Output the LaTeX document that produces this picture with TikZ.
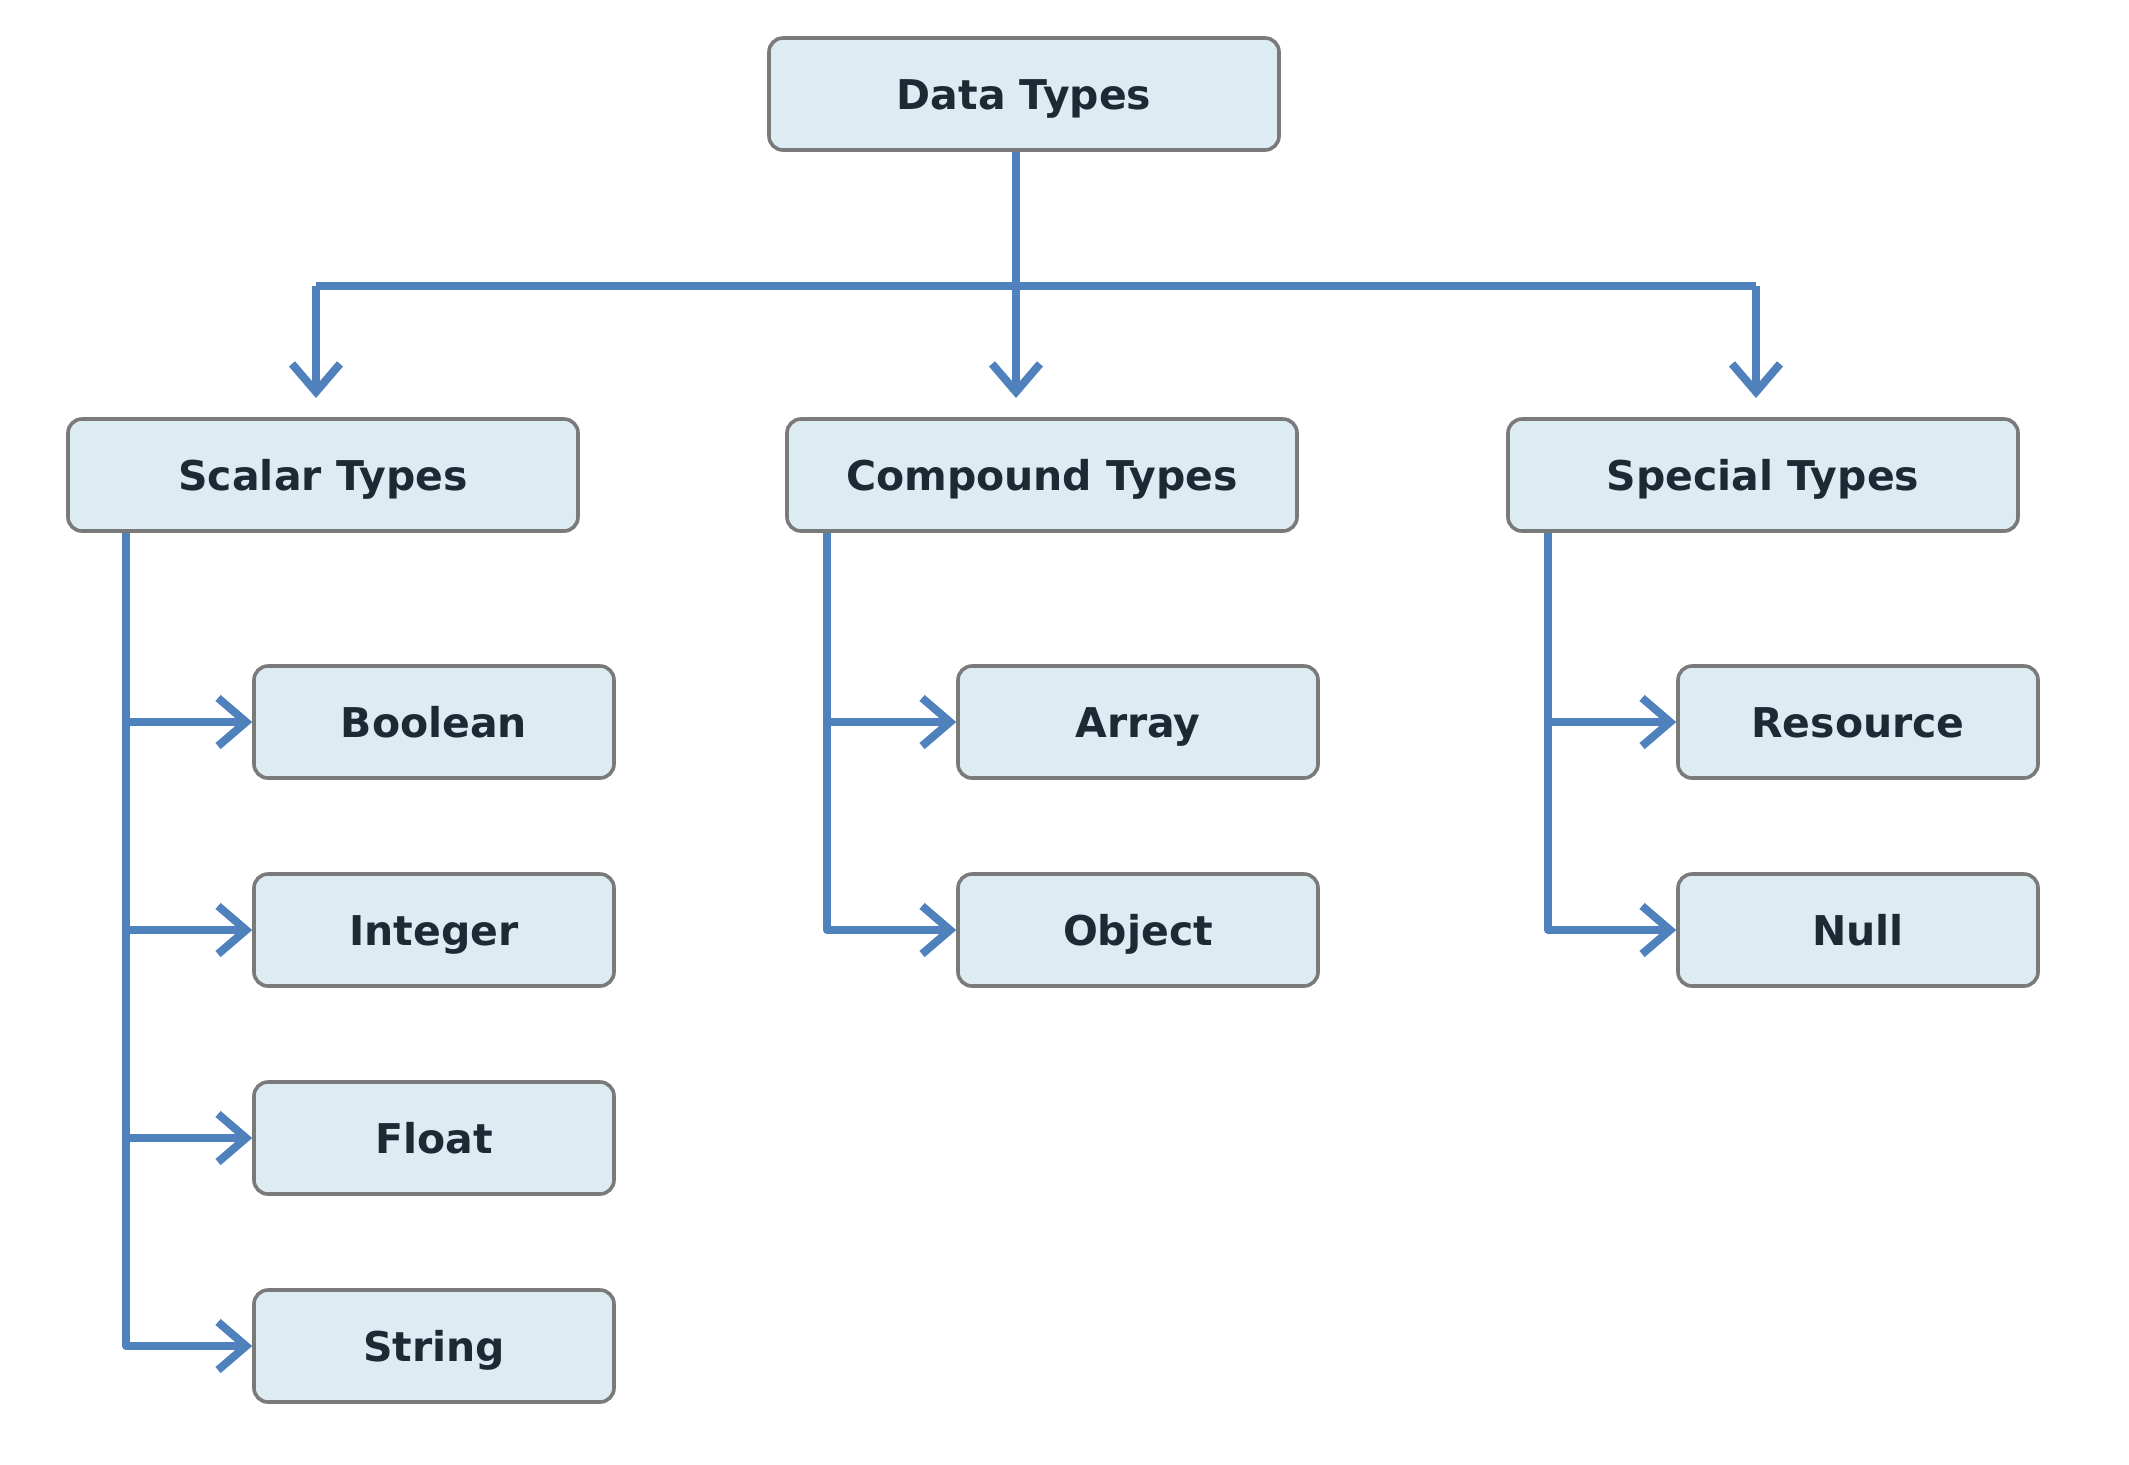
\documentclass[tikz,border=0pt]{standalone}
\usepackage{fontspec}
\setmainfont{DejaVu Sans}
\usetikzlibrary{arrows.meta}
\definecolor{linkblue}{HTML}{4F81BD}
\definecolor{boxfill}{HTML}{DDEBF3}
\definecolor{boxline}{HTML}{7A7A7A}
\definecolor{txt}{HTML}{1E2A33}
\begin{document}
\begin{tikzpicture}[x=0.5pt,y=-0.5pt,
  box/.style={draw=boxline, line width=1.8pt, fill=boxfill, rounded corners=7pt,
    text=txt, font=\bfseries\fontsize{20.5}{24}\selectfont, inner sep=0pt,
    text height=15pt, text depth=0pt},
  topbox/.style={box, minimum width=255pt, minimum height=56pt},
  leafbox/.style={box, minimum width=180pt, minimum height=56pt},
  link/.style={draw=linkblue, line width=4pt, line join=round},
  arr/.style={link, -{Straight Barb[length=14pt,width=24pt,line width=4pt]}}
]
\useasboundingbox (0,0) rectangle (2129,1464);
\fill[white] (0,0) rectangle (2129,1464);
% nodes
\node[topbox] (data) at (1024,94) {Data Types};
\node[topbox] (scalar) at (323,475) {Scalar Types};
\node[topbox] (compound) at (1042,475) {Compound Types};
\node[topbox] (special) at (1763,475) {Special Types};
\node[leafbox] (bool) at (434,722) {Boolean};
\node[leafbox] (int) at (434,930) {Integer};
\node[leafbox] (float) at (434,1138) {Float};
\node[leafbox] (string) at (434,1346) {String};
\node[leafbox] (array) at (1138,722) {Array};
\node[leafbox] (object) at (1138,930) {Object};
\node[leafbox] (resource) at (1858,722) {Resource};
\node[leafbox] (null) at (1858,930) {Null};
% top bus
\coordinate (busL) at (316,286);
\coordinate (busR) at (1756,286);
\coordinate (busM) at (1016,286);
\coordinate (tipL) at (316,398);
\coordinate (tipM) at (1016,398);
\coordinate (tipR) at (1756,398);
\draw[link] (data.south -| busM) -- (busM);
\draw[link] (busL) -- (busR);
\draw[arr] (busL) -- (tipL);
\draw[arr] (busM) -- (tipM);
\draw[arr] (busR) -- (tipR);
% scalar spine
\coordinate (sx) at (126,0);
\draw[arr] (scalar.south -| sx) |- (string.west);
\draw[arr] (bool.west -| sx) -- (bool.west);
\draw[arr] (int.west -| sx) -- (int.west);
\draw[arr] (float.west -| sx) -- (float.west);
% compound spine
\coordinate (cx) at (827,0);
\draw[arr] (compound.south -| cx) |- (object.west);
\draw[arr] (array.west -| cx) -- (array.west);
% special spine
\coordinate (px) at (1548,0);
\draw[arr] (special.south -| px) |- (null.west);
\draw[arr] (resource.west -| px) -- (resource.west);
\end{tikzpicture}
\end{document}
